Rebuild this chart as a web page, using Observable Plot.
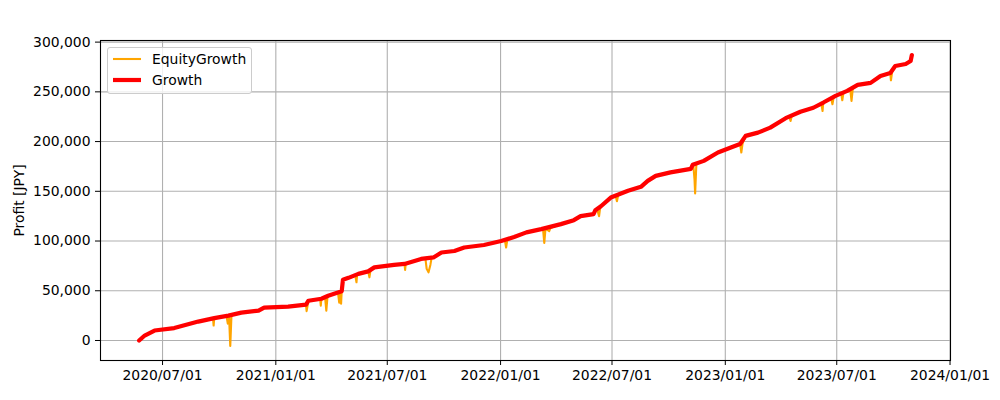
<!DOCTYPE html>
<html>
<head>
<meta charset="utf-8">
<script src="https://cdn.jsdelivr.net/npm/d3@7"></script>
<script src="https://cdn.jsdelivr.net/npm/@observablehq/plot@0.6"></script>
<style>
  html, body { margin: 0; padding: 0; background: #fff; }
  #wrap { position: relative; width: 1000px; height: 400px; font-family: "DejaVu Sans", sans-serif; }
  #legend { position: absolute; left: 107px; top: 47px; width: 143px; height: 45px;
            border: 1px solid #cccccc; border-radius: 3px; background: rgba(255,255,255,0.8); }
</style>
</head>
<body>
<div id="wrap"></div>
<script>
// ---- Data ----
const growthDates = [
  "2020-05-24","2020-06-02","2020-06-18","2020-07-20","2020-08-28","2020-09-23","2020-10-16",
  "2020-11-06","2020-12-04","2020-12-13","2021-01-21","2021-02-19","2021-02-23","2021-03-16",
  "2021-03-27","2021-04-18","2021-04-20","2021-04-29","2021-05-15","2021-05-31","2021-06-10",
  "2021-07-12","2021-07-29","2021-08-25","2021-09-14","2021-09-27","2021-10-18","2021-11-03",
  "2021-12-05","2022-01-02","2022-01-23","2022-02-12","2022-03-08","2022-04-09","2022-04-30",
  "2022-05-11","2022-06-01","2022-06-04","2022-06-13","2022-06-29","2022-07-27","2022-08-17",
  "2022-08-28","2022-09-10","2022-10-04","2022-11-06","2022-11-09","2022-11-27","2022-12-20",
  "2023-01-10","2023-01-25","2023-02-03","2023-02-23","2023-03-15","2023-04-09","2023-05-03",
  "2023-05-24","2023-06-10","2023-06-29","2023-07-18","2023-08-04","2023-08-25","2023-09-10",
  "2023-09-26","2023-10-04","2023-10-21","2023-10-29","2023-10-31"
];
const growthValues = [
  0, 5000, 10000, 12500, 19000, 22500, 25000,
  28000, 30000, 33000, 34000, 36000, 40000, 42000,
  45000, 49500, 61000, 63000, 67000, 69500, 73500,
  76000, 77000, 82000, 83500, 88500, 90000, 93500,
  96000, 100000, 104000, 108700, 112000, 117000, 121000,
  125000, 127000, 131000, 135000, 143700, 150500, 154500,
  160500, 165500, 169000, 172500, 176600, 180600, 189000,
  194000, 197600, 205700, 209000, 214000, 223500, 230000,
  234000, 239500, 246000, 251000, 257000, 259000, 266000,
  269000, 276000, 278000, 281000, 287000
];
// Equity drawdown points (shoulders at the growth level plus the low of each dip)
const dipDates = [
  "2020-09-21","2020-09-22","2020-09-25",
  "2020-10-13","2020-10-15","2020-10-17","2020-10-19","2020-10-21",
  "2021-02-18","2021-02-20","2021-02-22",
  "2021-03-14","2021-03-15","2021-03-18",
  "2021-03-22","2021-03-24","2021-03-26",
  "2021-04-12","2021-04-14","2021-04-16","2021-04-17",
  "2021-05-10","2021-05-12","2021-05-13",
  "2021-06-02","2021-06-04",
  "2021-07-27","2021-07-30","2021-07-31",
  "2021-09-01","2021-09-03","2021-09-06","2021-09-09","2021-09-11",
  "2022-01-08","2022-01-10","2022-01-12",
  "2022-03-11","2022-03-13","2022-03-15","2022-03-21","2022-03-23",
  "2022-06-07","2022-06-10","2022-06-12",
  "2022-07-07","2022-07-09","2022-07-11",
  "2022-11-10","2022-11-12","2022-11-13","2022-11-15",
  "2023-01-24","2023-01-27","2023-01-29",
  "2023-04-15","2023-04-17","2023-04-19",
  "2023-06-06","2023-06-08","2023-06-09",
  "2023-06-22","2023-06-24","2023-06-26",
  "2023-07-08","2023-07-10","2023-07-12",
  "2023-07-23","2023-07-25","2023-07-27",
  "2023-09-24","2023-09-27","2023-09-29"
];
const dipValues = [
  22000, 15000, 22500,
  24500, 17000, 25000, -5500, 26000,
  36000, 29500, 36500,
  42000, 35000, 42500,
  43000, 30000, 44500,
  48000, 38000, 48500, 37000,
  65500, 58500, 66000,
  63500, 71500,
  77000, 71000, 77500,
  82000, 72000, 68500, 76000, 83000,
  101000, 93500, 101500,
  112000, 98000, 112500, 110000, 113000,
  131500, 125000, 134500,
  145000, 140000, 146000,
  176800, 162000, 147800, 177500,
  197000, 189000, 198000,
  225000, 220700, 226000,
  238000, 230700, 239000,
  243000, 237500, 244500,
  249000, 241500, 249500,
  252000, 240800, 253000,
  268500, 261600, 270000
];
const xTicks = ["2020-07-01","2021-01-01","2021-07-01","2022-01-01","2022-07-01","2023-01-01","2023-07-01","2024-01-01"];
const yTicks = [0, 50000, 100000, 150000, 200000, 250000, 300000];

// ---- Build tables ----
const parse = d3.utcParse("%Y-%m-%d");
const growth = growthDates.map((d, i) => ({date: parse(d), value: growthValues[i]}));
const equity = growth.concat(dipDates.map((d, i) => ({date: parse(d), value: dipValues[i]})))
  .sort((a, b) => a.date - b.date);
const xt = xTicks.map(parse);

// matplotlib-like 5% margins
const [x0, x1] = d3.extent(equity, d => d.date);
const xPad = (x1 - x0) * 0.05;
const [y0, y1] = d3.extent(equity, d => d.value);
const yPad = (y1 - y0) * 0.05;

const fmtDate = d3.utcFormat("%Y/%m/%d");
const fmtNum = d3.format(",");

const chart = Plot.plot({
  width: 1000,
  height: 400,
  marginLeft: 100,
  marginRight: 50,
  marginTop: 40,
  marginBottom: 40,
  style: {fontFamily: "DejaVu Sans, sans-serif", fontSize: "13.9px", color: "black", background: "white"},
  x: {type: "utc", domain: [new Date(+x0 - xPad), new Date(+x1 + xPad)]},
  y: {domain: [y0 - yPad, y1 + yPad]},
  marks: [
    Plot.gridX(xt, {stroke: "#b0b0b0", strokeOpacity: 1, strokeWidth: 1.1}),
    Plot.gridY(yTicks, {stroke: "#b0b0b0", strokeOpacity: 1, strokeWidth: 1.1}),
    Plot.axisX(xt, {tickFormat: fmtDate, tickSize: 5, tickPadding: 5, label: null, fontSize: "13.9px"}),
    Plot.axisY(yTicks, {tickFormat: fmtNum, tickSize: 5, tickPadding: 5, fontSize: "13.9px",
      label: "Profit [JPY]", labelAnchor: "center", labelArrow: "none", labelOffset: 86}),
    Plot.line(equity, {x: "date", y: "value", stroke: "orange", strokeWidth: 2.1}),
    Plot.line(growth, {x: "date", y: "value", stroke: "red", strokeWidth: 4.2}),
    Plot.frame({stroke: "black", strokeWidth: 1.1})
  ]
});
const wrap = document.getElementById("wrap");
wrap.appendChild(chart);

// Legend (HTML overlay in the upper-left of the axes)
const legend = document.createElement("div");
legend.id = "legend";
legend.innerHTML = `
<svg width="143" height="45" style="font-family: DejaVu Sans, sans-serif; font-size: 13.9px;">
  <line x1="5" x2="33" y1="11" y2="11" stroke="orange" stroke-width="2.1"/>
  <text x="44" y="16">EquityGrowth</text>
  <line x1="5" x2="33" y1="32" y2="32" stroke="red" stroke-width="4.2"/>
  <text x="44" y="37">Growth</text>
</svg>`;
wrap.appendChild(legend);
</script>
</body>
</html>
